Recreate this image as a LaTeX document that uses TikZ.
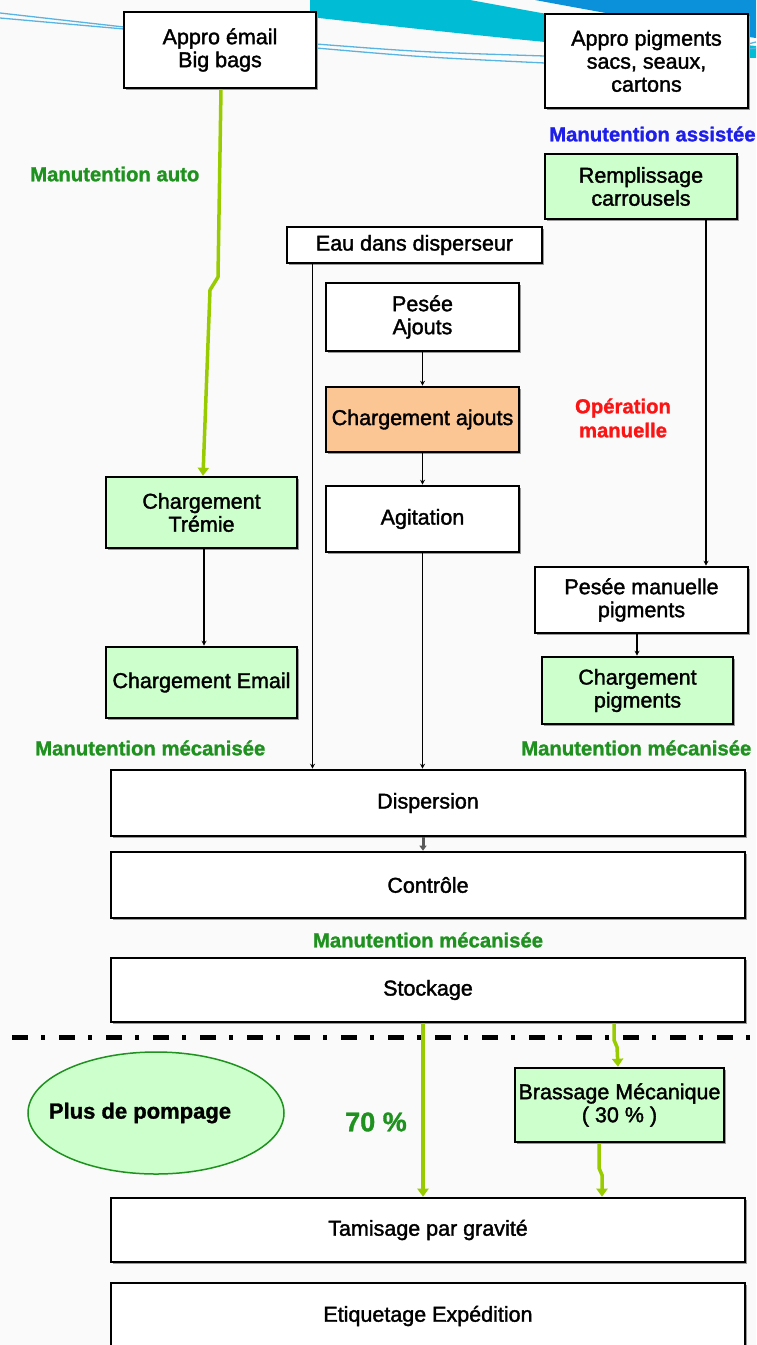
\documentclass[tikz,border=0pt]{standalone}
\usepackage{fontspec}
\setmainfont{Liberation Sans}
\newfontfamily\bxfont[FakeBold=1.6]{Liberation Sans}
\newfontfamily\lblfont[FakeBold=1.2]{Liberation Sans Bold}
\usetikzlibrary{arrows.meta,shadows,shapes.geometric}
\definecolor{lgreen}{RGB}{204,255,204}
\definecolor{orangef}{RGB}{251,197,148}
\definecolor{lblgreen}{RGB}{30,145,30}
\definecolor{arrgreen}{RGB}{153,204,0}
\definecolor{lblblue}{RGB}{30,30,235}
\definecolor{lblred}{RGB}{250,20,20}
\definecolor{swcyan}{RGB}{0,188,212}
\definecolor{swblue}{RGB}{10,145,218}
\definecolor{swline}{RGB}{90,180,225}
\definecolor{bgc}{RGB}{250,250,250}
\tikzset{
  box/.style={draw=black,line width=2.6pt,fill=white,align=center,inner sep=1pt,
    font=\bxfont\fontsize{21.5}{23}\selectfont,
    drop shadow={shadow xshift=2pt,shadow yshift=-2pt,fill=gray!80,opacity=1}},
  gbox/.style={box,fill=lgreen},
  obox/.style={box,fill=orangef},
  lbl/.style={font=\lblfont\fontsize{20.3}{24}\selectfont,align=center,inner sep=0pt},
  thinarrow/.style={line width=1.2pt,-{Stealth[length=5pt,width=5pt]}},
  garrow/.style={draw=arrgreen,line width=3.5pt,-{Triangle[length=8pt,width=11pt]}}
}
\begin{document}
\begin{tikzpicture}[x=1pt,y=-1pt]
\useasboundingbox (0,0) rectangle (756,1345);
\fill[bgc] (0,0) rectangle (756,1345);
% decorative swoosh
\fill[swcyan] (310,0) -- (470,0) .. controls (590,22) and (690,40) .. (756,46) -- (756,58) .. controls (650,54) and (480,36) .. (310,17) -- cycle;
\fill[swblue] (535,0) -- (756,0) -- (756,38) .. controls (700,30) and (610,14) .. (535,0) -- cycle;
\draw[swline,line width=1.3pt] (0,13) -- (124,27);
\draw[swline,line width=1.3pt] (0,18) -- (124,29);
\draw[swline,line width=1.3pt] (316,44) .. controls (420,52) .. (545,56);
\draw[swline,line width=1.3pt] (316,48) .. controls (420,57) .. (545,63);
\draw[swline,line width=1.3pt] (748,44) -- (756,42);
\draw[swline,line width=1.3pt] (748,49) -- (756,48);

% nodes
\node[box,minimum width=192,minimum height=76] (email) at (220,50) {Appro émail\\Big bags};
\node[box,minimum width=203,minimum height=94] (pig) at (646.5,61) {Appro pigments\\sacs, seaux,\\cartons};
\node[gbox,minimum width=192,minimum height=65] (rempl) at (641,186.5) {Remplissage\\carrousels};
\node[box,minimum width=255,minimum height=36] (eau) at (414.5,245) {Eau dans disperseur};
\node[box,minimum width=193,minimum height=68] (pesee) at (422.5,317) {Pesée\\Ajouts};
\node[obox,minimum width=193,minimum height=65] (charaj) at (422.5,419.5) {Chargement ajouts};
\node[box,minimum width=193,minimum height=66] (agit) at (422.5,519) {Agitation};
\node[gbox,minimum width=191,minimum height=71] (tremie) at (201.5,512.5) {Chargement\\Trémie};
\node[gbox,minimum width=191,minimum height=71] (cemail) at (201.5,682.5) {Chargement Email};
\node[box,minimum width=213,minimum height=66] (pesman) at (641.5,600) {Pesée manuelle\\pigments};
\node[gbox,minimum width=191,minimum height=67] (charpig) at (637.5,690.5) {Chargement\\pigments};
\node[box,minimum width=634,minimum height=66] (disp) at (428,803) {Dispersion};
\node[box,minimum width=634,minimum height=66] (ctrl) at (428,885) {Contrôle};
\node[box,minimum width=634,minimum height=64] (stock) at (428,990) {Stockage};
\node[gbox,minimum width=209,minimum height=74] (brass) at (619.5,1105) {Brassage Mécanique\\( 30 \% )};
\node[box,minimum width=634,minimum height=64] (tamis) at (428,1230) {Tamisage par gravité};
\node[box,minimum width=634,minimum height=66] (etiq) at (428,1316) {Etiquetage Expédition};
\node[ellipse,draw=lblgreen,line width=1.5pt,fill=lgreen,minimum width=256,minimum height=122,inner sep=0pt,
  label={[xshift=-16pt,font=\lblfont\fontsize{22}{24}\selectfont]center:Plus de pompage}] (pomp) at (156,1113) {};

% labels
\node[lbl,text=lblgreen,anchor=west] (l1) at (30,174) {Manutention auto};
\node[lbl,text=lblblue,anchor=west] (l2) at (549,134) {Manutention assistée};
\node[lbl,text=lblred] (l3) at (623,418) {Opération\\manuelle};
\node[lbl,text=lblgreen,anchor=west] (l4) at (35,748) {Manutention mécanisée};
\node[lbl,text=lblgreen,anchor=west] (l5) at (521,748) {Manutention mécanisée};
\node[lbl,text=lblgreen] (l6) at (428,940) {Manutention mécanisée};
\node[font=\lblfont\fontsize{27}{30}\selectfont,text=lblgreen,inner sep=0pt] (pct) at (376,1122) {70 \%};

% dash-dot separator
\coordinate (sepL) at (12,1037);
\coordinate (sepR) at (756,1037);
\draw[line width=5pt,dash pattern=on 16pt off 13pt on 4pt off 14pt] (sepL) -- (sepR);

% connectors
\draw[garrow] ([xshift=1pt]email.south) -- (218,277) -- (210,290) -- ([xshift=1.5pt]tremie.north);
\draw[thinarrow] ([xshift=65pt]rempl.south) -- ([xshift=65pt]rempl.south |- pesman.north);
\draw[thinarrow] ([xshift=-102pt]eau.south) -- ([xshift=-102pt]eau.south |- disp.north);
\draw[thinarrow] (pesee.south) -- (charaj.north);
\draw[thinarrow] (charaj.south) -- (agit.north);
\draw[thinarrow] (agit.south) -- (agit.south |- disp.north);
\draw[thinarrow] ([xshift=2.5pt]tremie.south) -- ([xshift=2.5pt]cemail.north);
\draw[thinarrow] ([xshift=-4.5pt]pesman.south) -- ([xshift=-4.5pt]pesman.south |- charpig.north);
\draw[line width=3pt,draw=gray!70!black,-{Triangle[length=5pt,width=7pt]}] ([xshift=-5pt]disp.south) -- ([xshift=-5pt]ctrl.north);
\draw[garrow] ([xshift=-5pt]stock.south) -- ([xshift=-5pt]tamis.north);
\draw[garrow] ([xshift=186pt]stock.south) -- (614,1040) -- (617,1047) -- (brass.north -| 618,0);
\draw[garrow] ([xshift=-20.5pt]brass.south) -- (599,1168) -- (602,1175) -- (tamis.north -| 602,0);
\end{tikzpicture}
\end{document}
